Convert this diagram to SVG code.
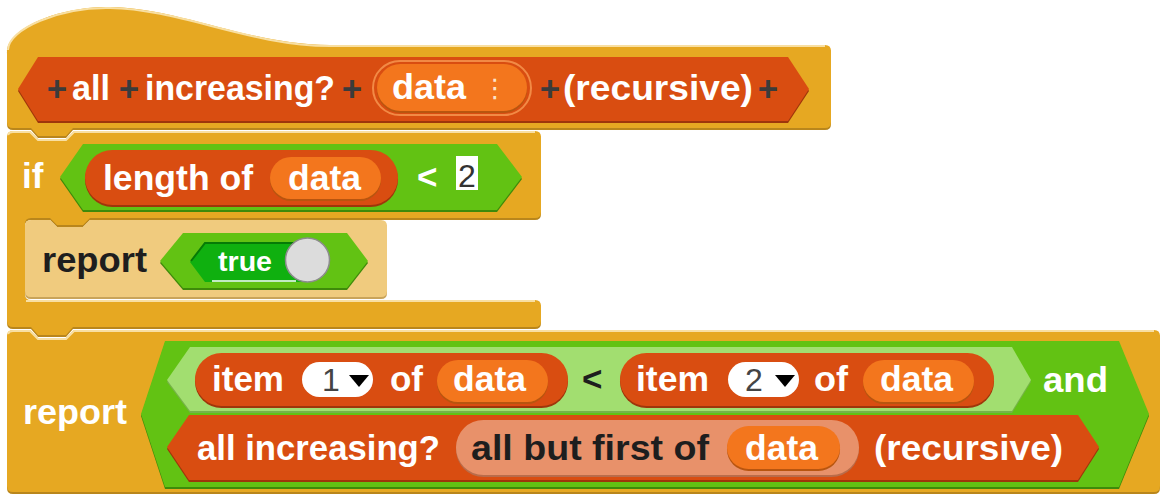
<svg xmlns="http://www.w3.org/2000/svg" width="1162" height="494" viewBox="0 0 1162 494">
<style>
.gold{fill:#E6A822}
.goldsh{fill:#B9861C}
.goldz{fill:#F0CB7E}
.goldzsh{fill:#C9A45A}
.red{fill:#D94D11}
.redsh{fill:#9E360B}
.redz{fill:#E8916A}
.redzsh{fill:#B96C4B}
.var{fill:#F3761D}
.varsh{fill:#B8550F}
.grn{fill:#62C213}
.grnsh{fill:#3E8A0A}
.grnz{fill:#A2DE70}
.grnzsh{fill:#76B349}
.hl{fill:none;stroke:#F8DFA2;stroke-width:2}
.dd{fill:#FFFFFF}
text{font-family:"Liberation Sans",Arial,Helvetica,sans-serif;font-weight:bold;font-size:35px;fill:#FFFFFF}
text.dk{fill:#1E1E1E}
text.pl{fill:#3B3B3B}
text.num{font-weight:normal;font-size:32px;fill:#333333}
</style>
<rect width="1162" height="494" fill="#FFFFFF"/>

<g id="report-main">
  <path class="goldsh" transform="translate(0,2)" d="M7,336 Q7,330 13,330 L30,330 L38,338 L66,338 L74,330 L1154,330 Q1160,330 1160,336 L1160,486 Q1160,492 1154,492 L13,492 Q7,492 7,486 Z"/>
  <path class="gold" d="M7,336 Q7,330 13,330 L30,330 L38,338 L66,338 L74,330 L1154,330 Q1160,330 1160,336 L1160,486 Q1160,492 1154,492 L13,492 Q7,492 7,486 Z"/>
  <path class="hl" d="M8,334 Q9,331 13,331 L30,331 L38,339 L66,339 L74,331 L1154,331"/>
  <text x="23" y="424" textLength="104" lengthAdjust="spacingAndGlyphs">report</text>
</g>

<g id="if-block">
  <path class="goldsh" transform="translate(0,2)" d="M7,137 Q7,131 13,131 L30,131 L38,139 L66,139 L74,131 L535,131 Q541,131 541,137 L541,212 Q541,218 535,218 L90,218 L83,225 L57,225 L50,218 L31,218 Q25,218 25,224 L25,294 Q25,300 31,300 L535,300 Q541,300 541,306 L541,321 Q541,327 535,327 L73,327 L66,335 L38,335 L31,327 L13,327 Q7,327 7,321 Z"/>
  <path class="gold" d="M7,137 Q7,131 13,131 L30,131 L38,139 L66,139 L74,131 L535,131 Q541,131 541,137 L541,212 Q541,218 535,218 L90,218 L83,225 L57,225 L50,218 L31,218 Q25,218 25,224 L25,294 Q25,300 31,300 L535,300 Q541,300 541,306 L541,321 Q541,327 535,327 L73,327 L66,335 L38,335 L31,327 L13,327 Q7,327 7,321 Z"/>
  <path class="hl" d="M8,135 Q9,132 13,132 L30,132 L38,140 L66,140 L74,132 L535,132"/>
  <path class="hl" d="M26,301 L535,301"/>
  <text x="22" y="188">if</text>
</g>

<g id="hat-block">
  <path class="goldsh" transform="translate(0,2)" d="M7,52 C7,28 60,6 110,7 C180,8 250,45 330,45 L825,45 Q831,45 831,51 L831,122 Q831,128 825,128 L73,128 L66,136 L38,136 L31,128 L13,128 Q7,128 7,122 Z"/>
  <path class="gold" d="M7,52 C7,28 60,6 110,7 C180,8 250,45 330,45 L825,45 Q831,45 831,51 L831,122 Q831,128 825,128 L73,128 L66,136 L38,136 L31,128 L13,128 Q7,128 7,122 Z"/>
  <path class="hl" d="M8,50 C8,29 60,7 110,8 C180,9 250,46 330,46 L825,46"/>
</g>

<g id="prototype">
  <path class="redsh" transform="translate(0,2)" d="M18,89 L38,57 L788,57 L809,89 L788,121 L38,121 Z"/>
  <path class="red" d="M18,89 L38,57 L788,57 L809,89 L788,121 L38,121 Z"/>
  <text class="pl" x="57" y="101" text-anchor="middle">+</text>
  <text x="72" y="100" textLength="38" lengthAdjust="spacingAndGlyphs">all</text>
  <text class="pl" x="129" y="101" text-anchor="middle">+</text>
  <text x="145" y="100" textLength="190" lengthAdjust="spacingAndGlyphs">increasing?</text>
  <text class="pl" x="352" y="101" text-anchor="middle">+</text>
  <text class="pl" x="550" y="101" text-anchor="middle">+</text>
  <text x="563" y="100" textLength="190" lengthAdjust="spacingAndGlyphs">(recursive)</text>
  <text class="pl" x="768" y="101" text-anchor="middle">+</text>
</g>

<g id="param-data">
  <rect x="373" y="61" width="158" height="54" rx="27" fill="none" stroke="#F28A45" stroke-width="2"/>
  <rect class="varsh" x="377" y="66" width="150" height="47" rx="23.5"/>
  <rect class="var" x="377" y="64" width="150" height="47" rx="23.5"/>
  <text x="392" y="99" textLength="74" lengthAdjust="spacingAndGlyphs">data</text>
  <text x="495" y="97" text-anchor="middle" style="font-family:'DejaVu Sans',sans-serif;font-size:26px;font-weight:normal;fill:#FCE3CB">⋮</text>
</g>

<g id="cond-less">
  <path class="grnsh" transform="translate(0,2)" d="M60,177 L83,144 L497,144 L522,177 L497,210 L83,210 Z"/>
  <path class="grn" d="M60,177 L83,144 L497,144 L522,177 L497,210 L83,210 Z"/>
  <text x="417" y="189">&lt;</text>
  <rect x="456" y="156" width="22" height="34" fill="#FFFFFF"/>
  <text class="num" x="458" y="187">2</text>
</g>

<g id="length-of">
  <rect class="redsh" x="85" y="152" width="313" height="55" rx="27.5"/>
  <rect class="red" x="85" y="150" width="313" height="55" rx="27.5"/>
  <text x="103" y="190" textLength="150" lengthAdjust="spacingAndGlyphs">length of</text>
  <rect class="varsh" x="270" y="159" width="111" height="42" rx="21"/>
  <rect class="var" x="270" y="157" width="111" height="42" rx="21"/>
  <text x="288" y="190" textLength="73" lengthAdjust="spacingAndGlyphs">data</text>
</g>

<g id="report-true">
  <path class="goldzsh" transform="translate(0,2)" d="M25,226 Q25,220 31,220 L50,220 L57,227 L83,227 L90,220 L381,220 Q387,220 387,226 L387,291 Q387,297 381,297 L31,297 Q25,297 25,291 Z"/>
  <path class="goldz" d="M25,226 Q25,220 31,220 L50,220 L57,227 L83,227 L90,220 L381,220 Q387,220 387,226 L387,291 Q387,297 381,297 L31,297 Q25,297 25,291 Z"/>
  <text class="dk" x="42" y="272" textLength="105" lengthAdjust="spacingAndGlyphs">report</text>
  <path class="grnsh" transform="translate(0,2)" d="M160,261 L183,233 L347,233 L368,261 L347,288 L183,288 Z"/>
  <path class="grn" d="M160,261 L183,233 L347,233 L368,261 L347,288 L183,288 Z"/>
  <path d="M190,262 L205,242 L310,242 L310,282 L205,282 Z" fill="#0FB00F"/>
  <path d="M191,261 L205,243 L300,243" fill="none" stroke="#067A06" stroke-width="2"/>
  <line x1="212" y1="281" x2="296" y2="281" stroke="#FFFFFF" stroke-width="1.5"/>
  <text x="218" y="271" style="font-size:28px" textLength="54" lengthAdjust="spacingAndGlyphs">true</text>
  <circle cx="307.5" cy="260" r="22" fill="#DCDCDC" stroke="#8C8C8C" stroke-width="1.5"/>
</g>

<g id="and-block">
  <path class="grnsh" transform="translate(0,2)" d="M141,414 L165,341 L1119,341 L1149,414 L1119,487 L165,487 Z"/>
  <path class="grn" d="M141,414 L165,341 L1119,341 L1149,414 L1119,487 L165,487 Z"/>
  <text x="1043" y="392" textLength="65" lengthAdjust="spacingAndGlyphs">and</text>
</g>

<g id="less-items">
  <path class="grnzsh" transform="translate(0,2)" d="M167,380 L190,347 L1012,347 L1031,380 L1012,411 L190,411 Z"/>
  <path class="grnz" d="M167,380 L190,347 L1012,347 L1031,380 L1012,411 L190,411 Z"/>
  <text class="dk" x="582" y="391">&lt;</text>
</g>

<g id="item-1">
  <rect class="redsh" x="195" y="355" width="373" height="53" rx="26.5"/>
  <rect class="red" x="195" y="353" width="373" height="53" rx="26.5"/>
  <text x="212" y="391" textLength="72" lengthAdjust="spacingAndGlyphs">item</text>
  <rect class="dd" x="302" y="362" width="71" height="35" rx="17.5"/>
  <text class="num" x="322" y="391" style="fill:#444">1</text>
  <path d="M349,375 L369,375 L359,387 Z" fill="#000000"/>
  <text x="390" y="391" textLength="33" lengthAdjust="spacingAndGlyphs">of</text>
  <rect class="varsh" x="437" y="362" width="111" height="42" rx="21"/>
  <rect class="var" x="437" y="360" width="111" height="42" rx="21"/>
  <text x="453" y="391" textLength="73" lengthAdjust="spacingAndGlyphs">data</text>
</g>

<g id="item-2">
  <rect class="redsh" x="620" y="355" width="374" height="53" rx="26.5"/>
  <rect class="red" x="620" y="353" width="374" height="53" rx="26.5"/>
  <text x="636" y="391" textLength="73" lengthAdjust="spacingAndGlyphs">item</text>
  <rect class="dd" x="728" y="362" width="71" height="35" rx="17.5"/>
  <text class="num" x="745" y="391" style="fill:#444">2</text>
  <path d="M775,375 L795,375 L785,387 Z" fill="#000000"/>
  <text x="814" y="391" textLength="34" lengthAdjust="spacingAndGlyphs">of</text>
  <rect class="varsh" x="863" y="362" width="111" height="42" rx="21"/>
  <rect class="var" x="863" y="360" width="111" height="42" rx="21"/>
  <text x="880" y="391" textLength="73" lengthAdjust="spacingAndGlyphs">data</text>
</g>

<g id="recursive-call">
  <path class="redsh" transform="translate(0,2)" d="M167,447 L189,415 L1078,415 L1099,447 L1078,480 L189,480 Z"/>
  <path class="red" d="M167,447 L189,415 L1078,415 L1099,447 L1078,480 L189,480 Z"/>
  <text x="197" y="460" textLength="243" lengthAdjust="spacingAndGlyphs">all increasing?</text>
  <text x="874" y="460" textLength="189" lengthAdjust="spacingAndGlyphs">(recursive)</text>
</g>

<g id="all-but-first">
  <rect class="redzsh" x="456" y="422" width="403" height="55" rx="27.5"/>
  <rect class="redz" x="456" y="420" width="403" height="55" rx="27.5"/>
  <text class="dk" x="471" y="460" textLength="238" lengthAdjust="spacingAndGlyphs">all but first of</text>
  <rect class="varsh" x="727" y="428" width="113" height="43" rx="21.5"/>
  <rect class="var" x="727" y="426" width="113" height="43" rx="21.5"/>
  <text x="745" y="460" textLength="73" lengthAdjust="spacingAndGlyphs">data</text>
</g>

<g id="connectors"></g>
</svg>
